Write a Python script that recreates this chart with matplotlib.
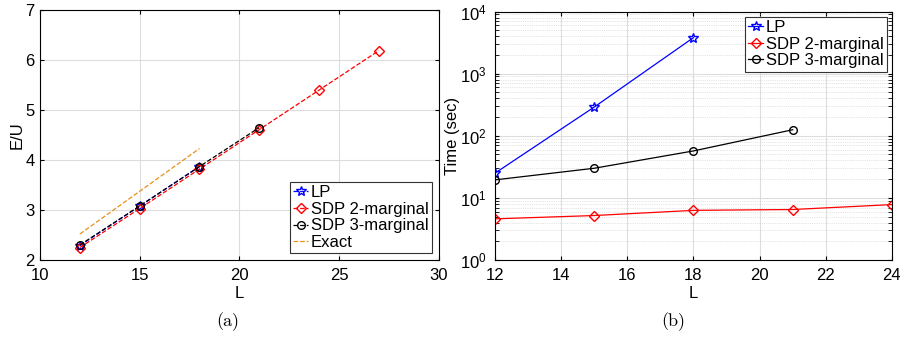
import numpy as np
import matplotlib
matplotlib.use("Agg")
import matplotlib.pyplot as plt
from matplotlib.ticker import LogLocator, NullFormatter

plt.rcParams['font.family'] = ['Liberation Sans', 'DejaVu Sans']
plt.rcParams['font.size'] = 12
plt.rcParams['mathtext.fontset'] = 'custom'
plt.rcParams['mathtext.rm'] = 'Liberation Sans'

# (a) energy per site
L_lp = [12, 15, 18]
E_lp = [2.29, 3.08, 3.87]
L_sdp2 = [12, 15, 18, 21, 24, 27]
E_sdp2 = [2.25, 3.03, 3.82, 4.61, 5.40, 6.19]
L_sdp3 = [12, 15, 18, 21]
E_sdp3 = [2.30, 3.08, 3.87, 4.65]
L_exact = [12, 18]
E_exact = [2.52, 4.23]

# (b) run time
T_lp = [25, 290, 3800]
T_sdp2 = [4.6, 5.2, 6.3, 6.5, 7.8]
L_sdp2_t = [12, 15, 18, 21, 24]
T_sdp3 = [19.5, 30, 57, 125]

fig = plt.figure(figsize=(9, 3.39), dpi=100)
ax1 = fig.add_axes([0.0444, 0.233, 0.443, 0.737])
ax2 = fig.add_axes([0.55, 0.233, 0.441, 0.733])

def style(ax):
    ax.tick_params(direction='in', which='both', top=True, right=True, length=3, pad=6)
    for s in ax.spines.values():
        s.set_linewidth(0.8)
    ax.set_axisbelow(True)

# ---- left ----
ax1.plot(L_lp, E_lp, '--', color='blue', marker='*', mfc='none', ms=7, lw=0.9, label='LP')
ax1.plot(L_sdp2, E_sdp2, '--', color='red', marker='D', mfc='none', ms=5, lw=0.9, label='SDP 2-marginal')
ax1.plot(L_sdp3, E_sdp3, '--', color='black', marker='o', mfc='none', ms=5.5, lw=0.9, label='SDP 3-marginal')
ax1.plot(L_exact, E_exact, '--', color='#e8901a', lw=0.9, label='Exact')
ax1.set_xlim(10, 30)
ax1.set_ylim(2, 7)
ax1.set_xticks([10, 15, 20, 25, 30])
ax1.set_yticks([2, 3, 4, 5, 6, 7])
ax1.grid(True, color='#dddddd', lw=0.8)
ax1.set_xlabel('L', labelpad=2)
ax1.set_ylabel('E/U', labelpad=0)
style(ax1)
ax1.tick_params(axis='y', pad=4)
leg = ax1.legend(loc='lower right', fancybox=False, edgecolor='#333333', framealpha=1,
                 handlelength=0.9, handletextpad=0.15, borderpad=0.2, labelspacing=0.1,
                 borderaxespad=0.4)
leg.get_frame().set_linewidth(0.8)

# ---- right ----
ax2.semilogy(L_lp, T_lp, '-', color='blue', marker='*', mfc='none', ms=7, lw=0.9, label='LP')
ax2.semilogy(L_sdp2_t, T_sdp2, '-', color='red', marker='D', mfc='none', ms=5, lw=0.9, label='SDP 2-marginal')
ax2.semilogy(L_sdp3, T_sdp3, '-', color='black', marker='o', mfc='none', ms=5.5, lw=0.9, label='SDP 3-marginal')
ax2.set_xlim(12, 24)
ax2.set_ylim(1, 1e4)
ax2.set_xticks([12, 14, 16, 18, 20, 22, 24])
ax2.yaxis.set_major_locator(LogLocator(base=10, numticks=10))
ax2.yaxis.set_minor_locator(LogLocator(base=10, subs=np.arange(2, 10), numticks=10))
ax2.yaxis.set_minor_formatter(NullFormatter())
ax2.grid(True, which='major', color='#dddddd', lw=0.8)
ax2.grid(True, which='minor', axis='y', color='#cccccc', lw=0.5, ls=':')
ax2.set_xlabel('L', labelpad=2)
ax2.set_ylabel('Time (sec)', labelpad=0)
style(ax2)
leg2 = ax2.legend(loc='upper right', fancybox=False, edgecolor='#333333', framealpha=1,
                  handlelength=0.9, handletextpad=0.15, borderpad=0.2, labelspacing=0.1,
                  borderaxespad=0.3)
leg2.get_frame().set_linewidth(0.8)

fig.text(0.253, 0.05, '(a)', family='cmr10', fontsize=13, ha='center', va='center')
fig.text(0.748, 0.05, '(b)', family='cmr10', fontsize=13, ha='center', va='center')

fig.savefig('out.png', dpi=100)
